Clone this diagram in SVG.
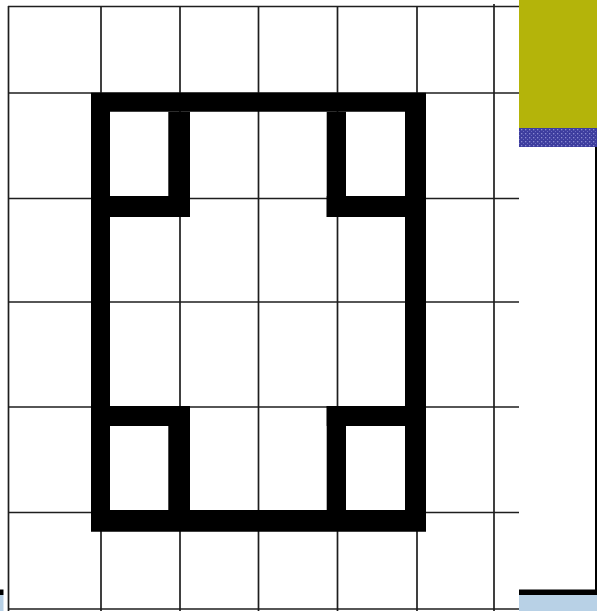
<svg xmlns="http://www.w3.org/2000/svg" width="597" height="611" viewBox="0 0 597 611">
  <defs>
    <style>
      .grid { stroke: #1e1e1e; stroke-width: 1.7; fill: none; }
      .ink { fill: #000000; }
    </style>
    <pattern id="dots" x="0" y="0" width="4" height="4" patternUnits="userSpaceOnUse">
      <rect width="4" height="4" fill="#3d3d9e"/>
      <rect x="1" y="1" width="1.3" height="1.3" fill="#8a8ad0"/>
      <rect x="3" y="3" width="1" height="1" fill="#6a6ac0"/>
    </pattern>
  </defs>

  <!-- slide background -->
  <g id="slide">
    <rect x="0" y="0" width="597" height="611" fill="#ffffff"/>
    <rect x="519" y="0" width="78" height="128" fill="#b4b40a"/>
    <rect x="519" y="128" width="78" height="19" fill="url(#dots)"/>
    <rect x="595" y="147" width="2" height="448" fill="#000000"/>
    <rect x="0" y="589.5" width="597" height="5.5" fill="#000000"/>
    <rect x="0" y="595" width="597" height="16" fill="#b8d1e6"/>
  </g>

  <!-- picture panel -->
  <g id="panel">
    <rect x="3.5" y="0" width="515.5" height="611" fill="#ffffff"/>
    <g id="grid" class="grid">
      <line x1="8.5" y1="6" x2="8.5" y2="611"/>
      <line x1="101" y1="6" x2="101" y2="611"/>
      <line x1="180" y1="6" x2="180" y2="611"/>
      <line x1="258.5" y1="6" x2="258.5" y2="611"/>
      <line x1="337.5" y1="6" x2="337.5" y2="611"/>
      <line x1="417" y1="6" x2="417" y2="611"/>
      <line x1="494" y1="4" x2="494" y2="611"/>
      <line x1="8" y1="6.5" x2="519" y2="6.5"/>
      <line x1="8" y1="93" x2="519" y2="93"/>
      <line x1="8" y1="198.5" x2="519" y2="198.5"/>
      <line x1="8" y1="302" x2="519" y2="302"/>
      <line x1="8" y1="407" x2="519" y2="407"/>
      <line x1="8" y1="512.5" x2="519" y2="512.5"/>
      <line x1="8" y1="609" x2="519" y2="609"/>
    </g>
    <g id="shape" class="ink">
      <path fill-rule="evenodd" d="M91,92.7 H426 V531.7 H91 Z M110,111.7 V510 H405 V111.7 Z"/>
      <!-- top-left -->
      <rect x="168.3" y="111.7" width="21.7" height="105.3"/>
      <rect x="110" y="196" width="80" height="21"/>
      <!-- top-right -->
      <rect x="326.7" y="111.7" width="19.3" height="105.3"/>
      <rect x="326.7" y="196" width="78.3" height="21"/>
      <!-- bottom-left -->
      <rect x="110" y="406" width="80" height="20"/>
      <rect x="168.3" y="406" width="21.7" height="104"/>
      <!-- bottom-right -->
      <rect x="326.7" y="406" width="78.3" height="20"/>
      <rect x="326.7" y="406" width="19.3" height="104"/>
    </g>
  </g>
</svg>
